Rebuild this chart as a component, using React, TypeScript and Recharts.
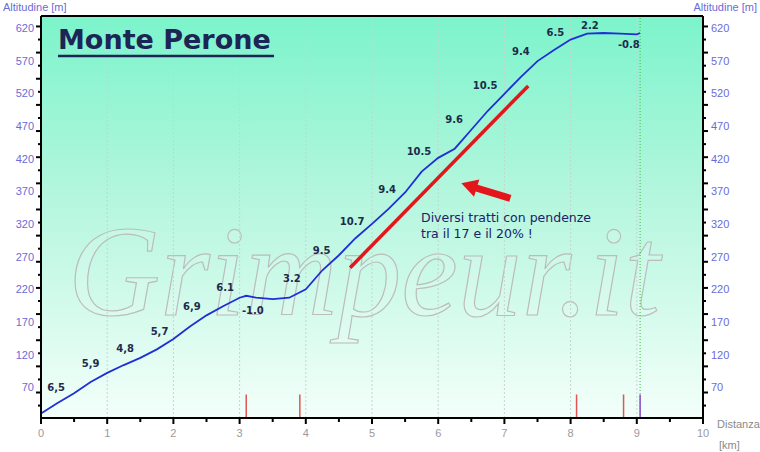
import { ComposedChart, Line, XAxis, YAxis, ReferenceLine, ReferenceDot } from 'recharts';

// profile: distance [km] / altitude [m]
const distKm = [0, 0.25, 0.5, 0.75, 1, 1.25, 1.5, 1.75, 2, 2.25, 2.5, 2.75, 3, 3.1, 3.25, 3.5, 3.75, 4, 4.25, 4.5, 4.75, 5, 5.25, 5.5, 5.75, 6, 6.25, 6.5, 6.75, 7, 7.25, 7.5, 7.75, 8, 8.25, 8.5, 8.75, 9, 9.05];
const altitude = [28, 44, 59, 76, 90, 102, 113, 126, 142, 161, 178, 192, 205, 208, 205, 203, 205, 218, 247, 270, 296, 318, 341, 366, 398, 419, 433, 462, 491, 517, 543, 567, 584, 600, 609, 610, 609, 608, 610];

// gradient labels per half km
const gradLabels = ['6,5', '5,9', '4,8', '5,7', '6,9', '6.1', '-1.0', '3.2', '9.5', '10.7', '9.4', '10.5', '9.6', '10.5', '9.4', '6.5', '2.2', '-0.8'];
const gradLabelKm = [0.23, 0.75, 1.27, 1.79, 2.28, 2.78, 3.2, 3.79, 4.24, 4.7, 5.23, 5.71, 6.24, 6.71, 7.25, 7.77, 8.29, 8.88];
const gradLabelAlt = [67, 104, 127, 154, 191, 221, 186, 235, 278, 322, 371, 429, 478, 529, 582, 611, 622, 593];

const xTicks = [0, 0.5, 1, 1.5, 2, 2.5, 3, 3.5, 4, 4.5, 5, 5.5, 6, 6.5, 7, 7.5, 8, 8.5, 9, 9.5, 10];
const yLabelTicks = [70, 120, 170, 220, 270, 320, 370, 420, 470, 520, 570, 620];
const yMarkTicks = [40, 60, 80, 100, 120, 140, 160, 180, 200, 220, 240, 260, 280, 300, 320, 340, 360, 380, 400, 420, 440, 460, 480, 500, 520, 540, 560, 580, 600, 620];
const gridKm = [1, 2, 3, 4, 5, 6, 7, 8, 9];
const markerKm = [3.1, 3.91, 8.09, 8.8];
const endKm = 9.05;

// annotation: steep stretch line and arrow (km, m)
const steepLine = [{ x: 4.67, y: 251 }, { x: 7.36, y: 529 }];
const arrowLine = [{ x: 7.09, y: 357 }, { x: 6.35, y: 380 }];

const Y_MIN = 21;
const Y_MAX = 636;

const data = distKm.map((d, i) => ({ d, alt: altitude[i] }));
const yTicks = Array.from(new Set([...yLabelTicks, ...yMarkTicks])).sort((a, b) => a - b);

function XTick({ x, y, payload }: any) {
  const v = payload.value;
  const major = Number.isInteger(v);
  return (
    <g>
      <line x1={x} x2={x} y1={y} y2={y + (major ? 6 : 4)} stroke="#000" strokeWidth={2} />
      {major && (
        <text x={x} y={y + 19} textAnchor="middle" fill="#9a9a9a" fontSize={11} fontFamily="Liberation Sans">
          {v}
        </text>
      )}
    </g>
  );
}

function YTick({ x, y, payload, side }: any) {
  const v = payload.value;
  const hasMark = yMarkTicks.includes(v);
  const long = hasMark && (620 - v) % 40 === 0;
  const hasLabel = yLabelTicks.includes(v);
  const dir = side === 'left' ? -1 : 1;
  return (
    <g>
      {hasMark && <line x1={x} x2={x + dir * (long ? 5 : 3)} y1={y} y2={y} stroke="#000" strokeWidth={2} />}
      {hasLabel && (
        <text
          x={side === 'left' ? x - 7 : x + 8}
          y={y + 5.5}
          textAnchor={side === 'left' ? 'end' : 'start'}
          fill="#6b6bd8"
          fontSize={11}
          fontFamily="Liberation Sans"
        >
          {v}
        </text>
      )}
    </g>
  );
}

function Arrow({ x1, y1, x2, y2 }: any) {
  const len = Math.hypot(x2 - x1, y2 - y1);
  const ux = (x2 - x1) / len;
  const uy = (y2 - y1) / len;
  const nx = -uy;
  const ny = ux;
  const neckX = x2 - ux * 16;
  const neckY = y2 - uy * 16;
  const sw = 3.5;
  const hw = 9;
  const pts = [
    [x1 + nx * sw, y1 + ny * sw],
    [neckX + nx * sw, neckY + ny * sw],
    [neckX + nx * hw, neckY + ny * hw],
    [x2, y2],
    [neckX - nx * hw, neckY - ny * hw],
    [neckX - nx * sw, neckY - ny * sw],
    [x1 - nx * sw, y1 - ny * sw],
  ];
  return <polygon points={pts.map(p => p.join(',')).join(' ')} fill="#e3161c" />;
}

export default function App() {
  return (
    <div style={{ position: 'absolute', left: 0, top: 0, width: 760, height: 452, background: '#fff', overflow: 'hidden' }}>
      {/* plot background */}
      <div
        style={{
          position: 'absolute',
          left: 41,
          top: 16,
          width: 662,
          height: 402,
          background: 'linear-gradient(to bottom, #7cf4cb 0%, #b4f6de 45%, #f3fffa 100%)',
        }}
      />
      {/* watermark */}
      <svg width={760} height={452} style={{ position: 'absolute', left: 0, top: 0 }}>
        <text
          x={68}
          y={315}
          fontFamily="Liberation Serif"
          fontStyle="italic"
          fontSize={130}
          textLength={592}
          lengthAdjust="spacingAndGlyphs"
          fill="rgba(255,255,255,0.12)"
          stroke="#bcbcbc"
          strokeWidth={1.2}
        >
          Grimpeur.it
        </text>
      </svg>
      <div style={{ position: 'absolute', left: 0, top: 0 }}>
        <ComposedChart width={760} height={452} data={data} margin={{ top: 16, right: 0, bottom: 0, left: 0 }}>
          <XAxis
            dataKey="d"
            type="number"
            domain={[0, 10]}
            ticks={xTicks}
            interval={0}
            height={34}
            tickSize={0}
            tickMargin={0}
            tickLine={false}
            axisLine={{ stroke: '#000', strokeWidth: 2 }}
            tick={<XTick />}
          />
          <YAxis
            type="number"
            domain={[Y_MIN, Y_MAX]}
            allowDataOverflow
            ticks={yTicks}
            interval={0}
            width={41}
            tickSize={0}
            tickMargin={0}
            tickLine={false}
            axisLine={{ stroke: '#000', strokeWidth: 2 }}
            tick={<YTick side="left" />}
          />
          <YAxis
            yAxisId="r"
            orientation="right"
            type="number"
            domain={[Y_MIN, Y_MAX]}
            allowDataOverflow
            ticks={yTicks}
            interval={0}
            width={57}
            tickSize={0}
            tickMargin={0}
            tickLine={false}
            axisLine={{ stroke: '#000', strokeWidth: 2 }}
            tick={<YTick side="right" />}
          />
          {gridKm.map(k => (
            <ReferenceLine key={'g' + k} x={k} stroke="#c6d4d0" strokeDasharray="2 2" />
          ))}
          <ReferenceLine x={endKm} stroke="#3fbf3f" strokeDasharray="1 2" />
          <ReferenceLine y={Y_MAX} stroke="#000" strokeWidth={2} />
          {markerKm.map(k => (
            <ReferenceLine key={'m' + k} segment={[{ x: k, y: Y_MIN }, { x: k, y: 57 }]} stroke="#e05555" strokeWidth={1.5} />
          ))}
          <ReferenceLine segment={[{ x: endKm, y: Y_MIN }, { x: endKm, y: 57 }]} stroke="#8a4cc8" strokeWidth={1.5} />
          <ReferenceLine segment={steepLine} stroke="#e3161c" strokeWidth={3.5} />
          <ReferenceLine segment={arrowLine} shape={(p: any) => <Arrow {...p} />} />
          <Line type="linear" dataKey="alt" stroke="#1f2fd6" strokeWidth={1.8} dot={false} isAnimationActive={false} />
          {gradLabels.map((t, i) => (
            <ReferenceDot
              key={'l' + i}
              x={gradLabelKm[i]}
              y={gradLabelAlt[i]}
              r={0}
              fill="none"
              stroke="none"
              label={{ value: t, position: 'center', fill: '#1d2b4c', fontSize: 10, fontWeight: 'bold', fontFamily: 'DejaVu Sans' }}
            />
          ))}
        </ComposedChart>
      </div>
      {/* texts */}
      <svg width={760} height={452} style={{ position: 'absolute', left: 0, top: 0, pointerEvents: 'none' }}>
        <text x={58} y={48.5} fontFamily="DejaVu Sans" fontWeight="bold" fontSize={27} fill="#1c2556">
          Monte Perone
        </text>
        <line x1={58} x2={274} y1={56} y2={56} stroke="#1c2556" strokeWidth={2.3} />
        <text x={3} y={11} fontFamily="Liberation Sans" fontSize={11} fill="#6b6bd8">
          Altitudine [m]
        </text>
        <text x={757} y={11} textAnchor="end" fontFamily="Liberation Sans" fontSize={11} fill="#6b6bd8">
          Altitudine [m]
        </text>
        <text x={717} y={428} fontFamily="Liberation Sans" fontSize={11} fill="#8a8a8a">
          Distanza
        </text>
        <text x={719} y={449} fontFamily="Liberation Sans" fontSize={11} fill="#8a8a8a">
          [km]
        </text>
        <text x={421} y={221.5} fontFamily="DejaVu Sans" fontSize={12.5} fill="#1b2168">
          Diversi tratti con pendenze
        </text>
        <text x={421} y={237.5} fontFamily="DejaVu Sans" fontSize={12.5} fill="#1b2168">
          tra il 17 e il 20% !
        </text>
      </svg>
    </div>
  );
}
